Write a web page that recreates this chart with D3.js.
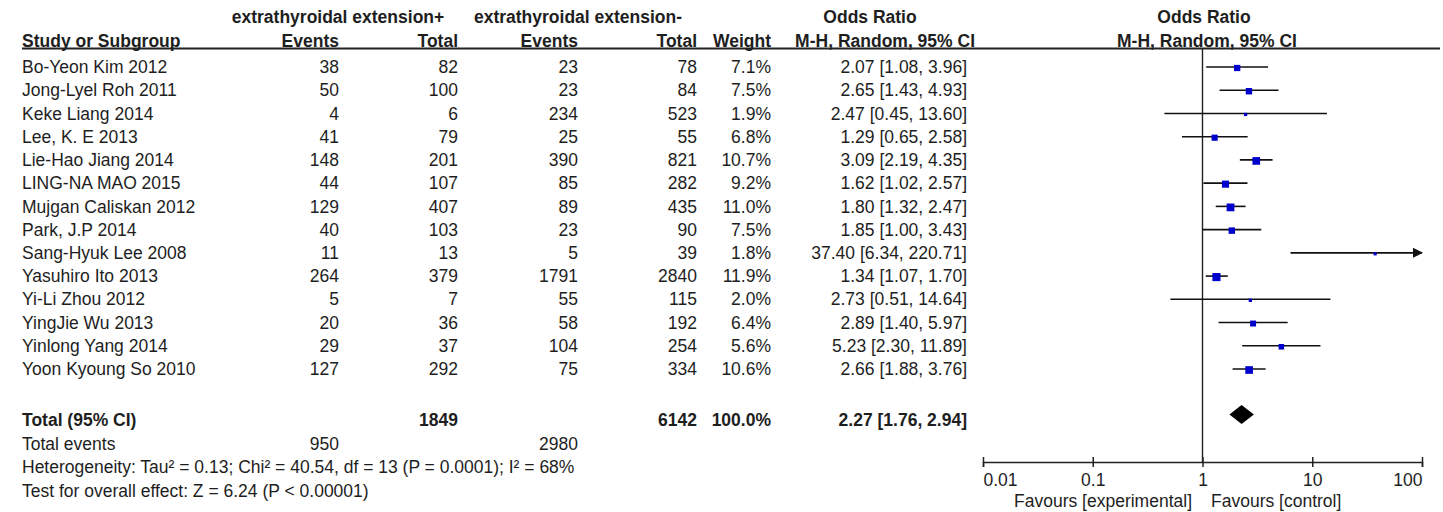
<!DOCTYPE html>
<html>
<head>
<meta charset="utf-8">
<script src="https://cdn.jsdelivr.net/npm/d3@7"></script>
<style>
  body { margin: 0; background: #fff; }
  svg text { font-family: "Liberation Sans", Arial, sans-serif; font-size: 17.5px; fill: #1e1e1e; }
  .bold { font-weight: bold; }
</style>
</head>
<body>
<svg id="forest" width="1443" height="512"></svg>
<script>
/* forest plot — extrathyroidal extension, M-H random OR */

const studies = [
  "Bo-Yeon Kim 2012", "Jong-Lyel Roh 2011", "Keke Liang 2014", "Lee, K. E 2013",
  "Lie-Hao Jiang 2014", "LING-NA MAO 2015", "Mujgan Caliskan 2012", "Park, J.P 2014",
  "Sang-Hyuk Lee 2008", "Yasuhiro Ito 2013", "Yi-Li Zhou 2012", "YingJie Wu 2013",
  "Yinlong Yang 2014", "Yoon Kyoung So 2010"
];
const eventsPos = [38, 50, 4, 41, 148, 44, 129, 40, 11, 264, 5, 20, 29, 127];
const totalPos  = [82, 100, 6, 79, 201, 107, 407, 103, 13, 379, 7, 36, 37, 292];
const eventsNeg = [23, 23, 234, 25, 390, 85, 89, 23, 5, 1791, 55, 58, 104, 75];
const totalNeg  = [78, 84, 523, 55, 821, 282, 435, 90, 39, 2840, 115, 192, 254, 334];
const weights   = [7.1, 7.5, 1.9, 6.8, 10.7, 9.2, 11.0, 7.5, 1.8, 11.9, 2.0, 6.4, 5.6, 10.6];
const orEst     = [2.07, 2.65, 2.47, 1.29, 3.09, 1.62, 1.80, 1.85, 37.40, 1.34, 2.73, 2.89, 5.23, 2.66];
const orLow     = [1.08, 1.43, 0.45, 0.65, 2.19, 1.02, 1.32, 1.00, 6.34, 1.07, 0.51, 1.40, 2.30, 1.88];
const orHigh    = [3.96, 4.93, 13.60, 2.58, 4.35, 2.57, 2.47, 3.43, 220.71, 1.70, 14.64, 5.97, 11.89, 3.76];

const pooled = { est: 2.27, low: 1.76, high: 2.94, totalPos: 1849, totalNeg: 6142, eventsPos: 950, eventsNeg: 2980 };
const axisTicks = [0.01, 0.1, 1, 10, 100];
const footLines = [
  "Heterogeneity: Tau\u00b2 = 0.13; Chi\u00b2 = 40.54, df = 13 (P = 0.0001); I\u00b2 = 68%",
  "Test for overall effect: Z = 6.24 (P < 0.00001)"
];

const svg = d3.select("#forest");

const x = d3.scaleLog().domain([0.01, 100]).range([983, 1422]);
const y = d3.scaleLinear().domain([0, studies.length - 1]).range([67, 369]);
const yTotal = 420, yAxis = 462;

const fmt = d3.format(".2f");
const ciText = (e, l, h) => `${fmt(e)} [${fmt(l)}, ${fmt(h)}]`;

/* column right edges */
const col = { name: 22, ePos: 339, tPos: 458, eNeg: 578, tNeg: 697, w: 771, or: 967 };

function txt(g, xPos, yPos, s, anchor, bold) {
  return g.append("text")
    .attr("x", xPos).attr("y", yPos)
    .attr("dy", "0.35em")
    .attr("text-anchor", anchor || "start")
    .attr("class", bold ? "bold" : null)
    .text(s);
}

/* headers */
const head = svg.append("g");
txt(head, 338, 17, "extrathyroidal extension+", "middle", true);
txt(head, 578, 17, "extrathyroidal extension-", "middle", true);
txt(head, 870, 17, "Odds Ratio", "middle", true);
txt(head, 1204, 17, "Odds Ratio", "middle", true);
txt(head, col.name, 41, "Study or Subgroup", "start", true);
txt(head, col.ePos, 41, "Events", "end", true);
txt(head, col.tPos, 41, "Total", "end", true);
txt(head, col.eNeg, 41, "Events", "end", true);
txt(head, col.tNeg, 41, "Total", "end", true);
txt(head, col.w, 41, "Weight", "end", true);
txt(head, 975, 41, "M-H, Random, 95% CI", "end", true);
txt(head, 1207, 41, "M-H, Random, 95% CI", "middle", true);

svg.append("line")
  .attr("x1", 22).attr("x2", 1440)
  .attr("y1", 48.5).attr("y2", 48.5)
  .attr("stroke", "#222").attr("stroke-width", 2);

/* study rows */
const rows = svg.append("g");
studies.forEach((s, i) => {
  const yy = y(i);
  txt(rows, col.name, yy, s);
  txt(rows, col.ePos, yy, eventsPos[i], "end");
  txt(rows, col.tPos, yy, totalPos[i], "end");
  txt(rows, col.eNeg, yy, eventsNeg[i], "end");
  txt(rows, col.tNeg, yy, totalNeg[i], "end");
  txt(rows, col.w, yy, weights[i].toFixed(1) + "%", "end");
  txt(rows, col.or, yy, ciText(orEst[i], orLow[i], orHigh[i]), "end");
});

/* total rows */
txt(rows, col.name, yTotal, "Total (95% CI)", "start", true);
txt(rows, col.tPos, yTotal, pooled.totalPos, "end", true);
txt(rows, col.tNeg, yTotal, pooled.totalNeg, "end", true);
txt(rows, col.w, yTotal, "100.0%", "end", true);
txt(rows, col.or, yTotal, ciText(pooled.est, pooled.low, pooled.high), "end", true);
txt(rows, col.name, 444, "Total events");
txt(rows, col.ePos, 444, pooled.eventsPos, "end");
txt(rows, col.eNeg, 444, pooled.eventsNeg, "end");
footLines.forEach((l, i) => txt(rows, col.name, 467 + i * 24, l));

/* forest plot */
const plot = svg.append("g");
const [xmin, xmax] = x.domain();

svg.append("defs").append("marker")
  .attr("id", "arrow")
  .attr("viewBox", "0 0 10 10")
  .attr("refX", 9).attr("refY", 5)
  .attr("markerWidth", 6.5).attr("markerHeight", 7.5)
  .attr("orient", "auto")
  .append("path").attr("d", "M0,0 L10,5 L0,10 Z").attr("fill", "#111");

plot.append("line")
  .attr("x1", x(1)).attr("x2", x(1))
  .attr("y1", 49).attr("y2", yAxis)
  .attr("stroke", "#222").attr("stroke-width", 1.4);

studies.forEach((s, i) => {
  const yy = y(i);
  const hiClip = orHigh[i] > xmax;
  plot.append("line")
    .attr("x1", x(Math.max(orLow[i], xmin))).attr("x2", x(Math.min(orHigh[i], xmax)))
    .attr("y1", yy).attr("y2", yy)
    .attr("stroke", "#111").attr("stroke-width", 1.6)
    .attr("marker-end", hiClip ? "url(#arrow)" : null);
  const side = Math.sqrt(weights[i]) * 2.35;
  plot.append("rect")
    .attr("x", x(orEst[i]) - side / 2).attr("y", yy + 1 - side / 2)
    .attr("width", side).attr("height", side)
    .attr("fill", "#0000cc");
});

/* pooled diamond */
const dMid = yTotal - 5.5, dHalf = 9.5;
plot.append("path")
  .attr("d", `M${x(pooled.low)},${dMid} L${x(pooled.est)},${dMid - dHalf} L${x(pooled.high)},${dMid} L${x(pooled.est)},${dMid + dHalf} Z`)
  .attr("fill", "#000");

/* axis */
const axis = d3.axisBottom(x).tickValues(axisTicks).tickFormat(d => String(d)).tickSize(5);
const ax = svg.append("g").attr("transform", `translate(0,${yAxis})`).call(axis);
ax.select(".domain").attr("stroke", "#222").attr("stroke-width", 1.5);
ax.selectAll(".tick line").attr("y1", -5).attr("y2", 5).attr("stroke", "#222").attr("stroke-width", 1.5);
ax.selectAll(".tick text")
  .attr("y", 18).attr("dy", "0.35em")
  .style("font-family", "'Liberation Sans', Arial, sans-serif")
  .style("font-size", "17.5px").attr("fill", "#1e1e1e");
ax.selectAll(".tick").filter(d => d === 0.01).select("text").attr("text-anchor", "start").attr("x", 0);
ax.selectAll(".tick").filter(d => d === 100).select("text").attr("text-anchor", "end").attr("x", 0);

txt(svg, 1192, 501, "Favours [experimental]", "end");
txt(svg, 1211, 501, "Favours [control]", "start");
</script>
</body>
</html>
